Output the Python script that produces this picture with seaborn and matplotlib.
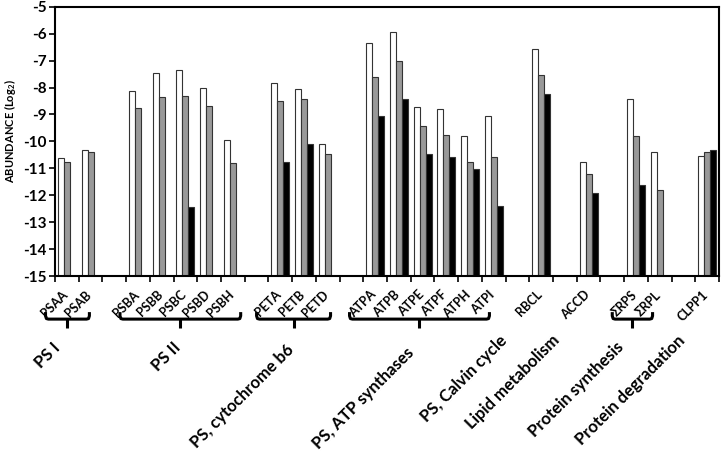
import numpy as np
import matplotlib
matplotlib.use("Agg")
import matplotlib.pyplot as plt
import matplotlib.transforms as mtransforms
import seaborn as sns
import pandas as pd

# categories (blank slots are spacers between groups)
genes = ['PSAA', 'PSAB', '', 'PSBA', 'PSBB', 'PSBC', 'PSBD', 'PSBH', '',
         'PETA', 'PETB', 'PETD', '', 'ATPA', 'ATPB', 'ATPE', 'ATPF', 'ATPH', 'ATPI', '',
         'RBCL', '', 'ACCD', '', 'ΣRPS', 'ΣRPL', '', 'CLPP1']

nan = np.nan
white_vals = [-10.62, -10.31, nan, -8.11, -7.46, -7.36, -8.03, -9.96, nan,
              -7.83, -8.06, -10.10, nan, -6.36, -5.95, -8.74, -8.81, -9.81, -9.07, nan,
              -6.55, nan, -10.78, nan, -8.44, -10.41, nan, -10.54]
gray_vals = [-10.78, -10.40, nan, -8.77, -8.35, -8.30, -8.69, -10.80, nan,
             -8.51, -8.44, -10.48, nan, -7.59, -7.03, -9.41, -9.78, -10.78, -10.59, nan,
             -7.55, nan, -11.21, nan, -9.79, -11.81, nan, -10.41]
black_vals = [nan, nan, nan, nan, nan, -12.43, nan, nan, nan,
              -10.78, -10.10, nan, nan, -9.07, -8.42, -10.45, -10.58, -11.04, -12.39, nan,
              -8.23, nan, -11.91, nan, -11.62, nan, nan, -10.32]

groups = ['PS I', 'PS II', 'PS, cytochrome b6', 'PS, ATP synthases', 'PS, Calvin cycle',
          'Lipid metabolism', 'Protein synthesis', 'Protein degradation']

base = -15

slots = [f's{i}' for i in range(len(genes))]
rows = []
for name, vals in [('a', white_vals), ('b', gray_vals), ('c', black_vals)]:
    for s, v in zip(slots, vals):
        rows.append({'slot': s, 'series': name, 'value': v})
df = pd.DataFrame(rows)
df['height'] = df['value'] - base

plt.rcParams['font.family'] = ['Lato', 'DejaVu Sans']
plt.rcParams['mathtext.fontset'] = 'custom'
plt.rcParams['mathtext.bf'] = 'Lato:bold'
plt.rcParams['mathtext.rm'] = 'Lato'
fig = plt.figure(figsize=(7.22, 4.54), dpi=100)
ax = fig.add_axes([0.0762, 0.392, 0.9196, 0.593])

sns.barplot(data=df, x='slot', y='height', hue='series', order=slots,
            hue_order=['a', 'b', 'c'], palette=['white', '#999999', 'black'],
            width=0.76, edgecolor='#333333', linewidth=0.8, bottom=base,
            errorbar=None, legend=False, ax=ax)

ax.set_ylim(-15, -5)
ax.set_xlim(-0.5, len(genes) - 0.5)
ax.set_yticks(range(-15, -4))
ax.set_yticklabels([str(v) for v in range(-15, -4)], fontsize=11, fontweight='bold')
ax.set_xticks(np.arange(len(genes) + 1) - 0.5)
ax.set_xticklabels([])
ax.tick_params(axis='both', direction='out', length=4, width=1.2, pad=2)
ax.set_xlabel('')
ax.set_ylabel('ABUNDANCE (Log$_\\mathbf{2}$)', fontsize=8, fontweight='bold')
ax.yaxis.set_label_coords(-0.056, 0.54)
for sp in ax.spines.values():
    sp.set_linewidth(1.5)
    sp.set_color('black')

trans = mtransforms.blended_transform_factory(ax.transData, ax.transAxes)

# gene labels
for i, g in enumerate(genes):
    if g:
        ax.text(i - 0.04, -0.062, g, transform=trans, rotation=45, ha='right', va='center',
                rotation_mode='anchor', fontsize=9, fontweight='bold', clip_on=False)

# braces
def brace(x0, x1):
    yl, yt, yb = -0.160, -0.134, -0.193
    r = 0.12
    xs = [x0, x0, x0 + r * 0.3, x0 + r, x1 - r, x1 - r * 0.3, x1, x1]
    ys = [yt, yl + 0.012, yl + 0.002, yl, yl, yl + 0.002, yl + 0.012, yt]
    ax.plot(xs, ys, color='black', lw=2.2, transform=trans, clip_on=False,
            solid_capstyle='butt', solid_joinstyle='round')
    xm = (x0 + x1) / 2
    ax.plot([xm, xm], [yl, yb], color='black', lw=2.2, transform=trans, clip_on=False,
            solid_capstyle='butt')

for x0, x1 in [(-0.9, 0.95), (2.24, 7.33), (8.0, 11.12), (11.92, 17.82), (23.0, 24.7)]:
    brace(x0, x1)

# group labels
gx = [-0.4, 4.68, 9.48, 14.52, 18.45, 20.68, 23.37, 25.97]
gy = [-0.258, -0.256, -0.264, -0.275, -0.230, -0.230, -0.256, -0.230]
for x, y, t in zip(gx, gy, groups):
    ax.text(x, y, t, transform=trans, rotation=45, ha='right', va='center',
            rotation_mode='anchor', fontsize=12, fontweight='bold', clip_on=False)

fig.savefig('out.png', dpi=100)
